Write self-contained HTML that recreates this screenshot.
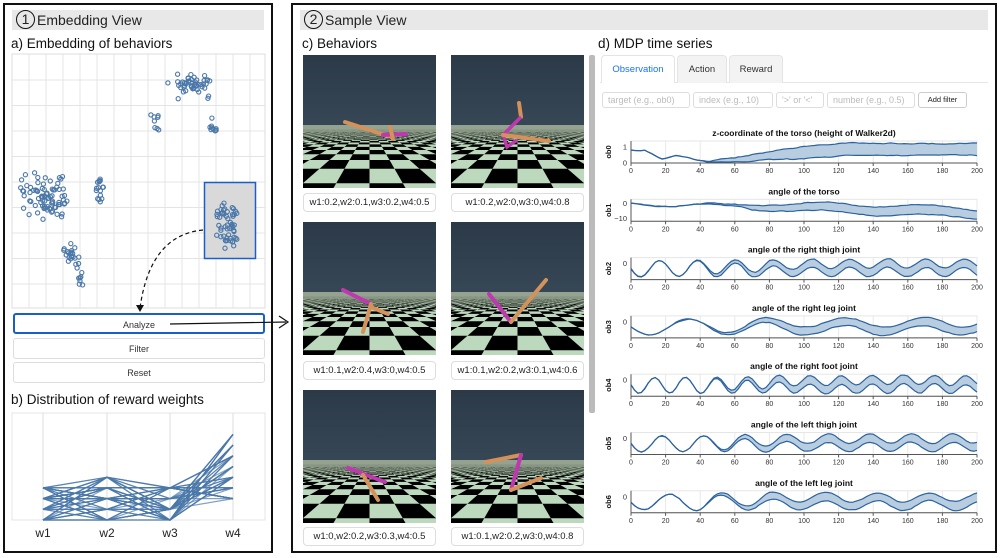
<!DOCTYPE html>
<html><head><meta charset="utf-8"><style>
body{margin:0;width:1000px;height:558px;background:#fff;overflow:hidden;font-family:"Liberation Sans",sans-serif;position:relative}
.abs{position:absolute}
.panel{position:absolute;border:2px solid #111;box-sizing:border-box}
.hdr{position:absolute;background:#e8e8e8;height:20px;font-size:14px;line-height:20px;color:#222}
.circ{display:inline-block;width:17px;height:17px;border:1.3px solid #111;border-radius:50%;text-align:center;line-height:17px;font-size:14px;margin:0 2px 0 4px;vertical-align:top}
.lbl{position:absolute;font-size:13.5px;color:#111}
.btn{position:absolute;left:13px;width:252px;height:21px;border:1px solid #ddd;border-radius:3px;box-sizing:border-box;font-size:9px;text-align:center;line-height:20px;color:#333;background:#fff}
.img{position:absolute;width:133px;height:133px;overflow:hidden;background:linear-gradient(#2c3a48,#3f5262)}
.cap{position:absolute;width:133px;height:19px;border:1px solid #ddd;border-radius:4px;box-sizing:border-box;font-size:9.5px;text-align:center;line-height:18px;color:#222}
.tab{position:absolute;top:55px;height:28px;font-size:9.5px;line-height:28px;text-align:center;border:1px solid #e4e4e4;border-bottom:none;border-radius:4px 4px 0 0;background:#f3f3f3;color:#333;box-sizing:border-box}
.inp{position:absolute;top:92px;height:16px;border:1px solid #ddd;border-radius:3px;box-sizing:border-box;font-size:9px;color:#bbb;line-height:14px;padding-left:5px}
</style></head><body>
<div class="panel" style="left:3px;top:3px;width:270px;height:550px"></div>
<div class="hdr" style="left:12px;top:10px;width:252px"><span class="circ">1</span>Embedding View</div>
<div class="lbl" style="left:11px;top:36px">a) Embedding of behaviors</div>
<div class="lbl" style="left:11px;top:392px">b) Distribution of reward weights</div>
<div class="btn" style="top:313px;border:2px solid #1a5fc8">Analyze</div>
<div class="btn" style="top:338px">Filter</div>
<div class="btn" style="top:362px">Reset</div>

<div class="panel" style="left:291px;top:3px;width:706px;height:550px"></div>
<div class="hdr" style="left:300px;top:10px;width:688px"><span class="circ">2</span>Sample View</div>
<div class="lbl" style="left:302px;top:36px">c) Behaviors</div>
<div class="lbl" style="left:598px;top:36px">d) MDP time series</div>
<div class="abs" style="left:589px;top:55px;width:6px;height:358px;background:#bbb;border-radius:2px"></div>
<div class="abs" style="left:600px;top:82px;width:388px;height:1px;background:#e6e6e6"></div>
<div class="tab" style="left:601px;width:74px;background:#fff;color:#1a73e8">Observation</div>
<div class="tab" style="left:677px;width:50px">Action</div>
<div class="tab" style="left:729px;width:54px">Reward</div>
<div class="inp" style="left:602px;width:88px">target (e.g., ob0)</div>
<div class="inp" style="left:693px;width:80px">index (e.g., 10)</div>
<div class="inp" style="left:776px;width:48px">'&gt;' or '&lt;'</div>
<div class="inp" style="left:827px;width:88px">number (e.g., 0.5)</div>
<div class="inp" style="left:918px;width:49px;color:#222;font-size:7.5px;border-color:#ccc;text-align:center;padding:0">Add filter</div>

<div id="imgs"></div>
<svg id="s" class="abs" style="left:0;top:0" width="1000" height="558"></svg>
<script>
const S=document.getElementById('s');
let h='';
let seed=7;function r(){seed=(seed*16807)%2147483647;return seed/2147483647;}
function g(){return (r()+r()+r()-1.5)/1.5;}
function u2(){return r()+r()-1;}
h+='<rect x="12" y="54" width="253" height="254" fill="#fff" stroke="#ddd"/>';
for(let x=29;x<265;x+=17)h+=`<line x1="${x}" y1="54" x2="${x}" y2="308" stroke="#e4e4e4"/>`;
for(let y=80;y<308;y+=25.5)h+=`<line x1="12" y1="${y}" x2="265" y2="${y}" stroke="#e4e4e4"/>`;
h+='<rect x="204.5" y="182.5" width="51" height="76" fill="#d9d9d9" stroke="#1a5fc8" stroke-width="1.5"/>';
const cl=[[190,85,24,14,50],[155,124,5,10,8],[213,128,4,10,9],[45,195,27,26,80],[100,190,6,14,16],[228,225,14,25,55],[72,255,10,12,20],[80,278,4,14,8]];
for(const c of cl)for(let i=0;i<c[4];i++){h+=`<circle cx="${(c[0]+u2()*c[2]).toFixed(1)}" cy="${(c[1]+u2()*c[3]).toFixed(1)}" r="2.1" fill="none" stroke="#4a77a8" stroke-width="1.1"/>`;}
h+='<path d="M203 230 Q150 235 140 308" fill="none" stroke="#111" stroke-dasharray="4,3" stroke-width="1.2"/><path d="M136 305 L140 312 L144 305" fill="#111"/>';
h+='<line x1="170" y1="324" x2="286" y2="322" stroke="#111" stroke-width="1.2"/><path d="M279 316 L288 322 L279 328" fill="none" stroke="#111" stroke-width="1.2"/>';
h+='<rect x="12" y="413" width="253" height="107" fill="#fff" stroke="#e4e4e4"/>';
const ax=[43,107,170,233];for(const x of ax)h+=`<line x1="${x}" y1="413" x2="${x}" y2="520" stroke="#ddd"/>`;
["w1","w2","w3","w4"].forEach((t,i)=>h+=`<text x="${ax[i]}" y="537" font-size="12" text-anchor="middle" fill="#222">${t}</text>`);
for(let i=0;i<70;i++){let w1=Math.floor(r()*4)/10,w2=Math.floor(r()*5)/10,w3=Math.floor(r()*4)/10,w4=Math.round(Math.max(0.2,Math.min(0.8,1-w1-w2-w3))*10)/10;
 const y=v=>520-107*v;h+=`<polyline points="${ax[0]},${y(w1)} ${ax[1]},${y(w2)} ${ax[2]},${y(w3)} ${ax[3]},${y(w4)}" fill="none" stroke="#4a77a8" stroke-opacity="0.7" stroke-width="1.2"/>`;}
const titles=["z-coordinate of the torso (height of Walker2d)","angle of the torso","angle of the right thigh joint","angle of the right leg joint","angle of the right foot joint","angle of the left thigh joint","angle of the left leg joint"];
const X0=631,X1=977;
for(let k=0;k<7;k++){const t=141+k*58.3,b=t+22;
 h+=`<text x="${(X0+X1)/2}" y="${t-5}" font-size="8.5" font-weight="bold" text-anchor="middle" fill="#111">${titles[k]}</text>`;
 h+=`<rect x="${X0}" y="${t}" width="${X1-X0}" height="22" fill="none" stroke="#e6e6e6"/>`;
 for(let v=0;v<=200;v+=20){const x=X0+(X1-X0)*v/200;h+=`<line x1="${x}" y1="${t}" x2="${x}" y2="${b}" stroke="#e8e8e8"/><line x1="${x}" y1="${b}" x2="${x}" y2="${b+3}" stroke="#555"/><text x="${x}" y="${b+10}" font-size="7" text-anchor="middle" fill="#333">${v}</text>`;}
 h+=`<line x1="${X0}" y1="${b}" x2="${X1}" y2="${b}" stroke="#555"/><line x1="${X0}" y1="${t}" x2="${X0}" y2="${b}" stroke="#555"/>`;
 h+=`<text transform="translate(${X0-20},${(t+b)/2}) rotate(-90)" font-size="7.5" font-weight="bold" text-anchor="middle" fill="#111">ob${k}</text>`;
 const yl=k==0?[["1",t+6],["0",b]]:k==1?[["0",t+4],["−10",b-3]]:[["0",t+6]];
 for(const [s,y] of yl)h+=`<text x="${X0-4}" y="${y+2.5}" font-size="7.5" text-anchor="end" fill="#333">${s}</text>`;
 const per=[0,0,22,45,18,24,30][k];let up=[],lo=[];let n1=0,n2=0;
 for(let i=0;i<=200;i+=2){const x=X0+(X1-X0)*i/200;let base,sp=Math.min(1,Math.max(0,(i-40)/60));
  n1=n1*0.8+g()*0.8;n2=n2*0.8+g()*0.8;
  if(k==0){base=i<18?t+2+i*0.9:i<27?t+18-(i-18)*0.5:i<45?t+14+(i-27)*0.4:t+21-(i-45)*0.15;base=Math.max(base,t+9);}
  else if(k==1)base=t+4+i*0.05+Math.sin(i/10)*2;
  else base=t+11+Math.sin(i*2*Math.PI/per)*8*(1-0.4*sp);
  const w=sp*(k==0?10:7);let u=Math.max(t+1,base-w*0.7+n1),l=Math.min(b-1,base+w*0.5+n2);
  if(l<u)l=u;
  up.push(x.toFixed(1)+','+u.toFixed(1));lo.push(x.toFixed(1)+','+l.toFixed(1));}
 h+=`<polygon points="${up.join(' ')} ${lo.slice().reverse().join(' ')}" fill="#b8cde0" stroke="none"/>`;
 h+=`<polyline points="${up.join(' ')}" fill="none" stroke="#2b62a0" stroke-width="1.2"/><polyline points="${lo.join(' ')}" fill="none" stroke="#2b62a0" stroke-width="1.2"/>`;}
S.innerHTML=h;
let fl='<rect x="0" y="70" width="133" height="63" fill="#bcd8bd"/>';
const HZ=70,FX=100,FY=63,T=0.36;
for(let zi=2;zi<40;zi++){const z0=zi*T,z1=z0+T;const y1=HZ+FY/z0;
 const xm=66.5*z1/FX+T;
 for(let xi=Math.floor(-xm/T)-1;xi<=Math.ceil(xm/T);xi++){if((xi+zi)&1)continue;const xa=xi*T,xb=xa+T;
  const p=(X,Z)=>(66.5+FX*X/Z).toFixed(1)+','+(HZ+FY/Z).toFixed(1);
  fl+=`<polygon points="${p(xa,z0)} ${p(xb,z0)} ${p(xb,z1)} ${p(xa,z1)}" fill="#000"/>`;}}
fl+='<rect x="0" y="70" width="133" height="7" fill="#8d9a88" opacity="0.85"/><rect x="0" y="77" width="133" height="5" fill="#8d9a88" opacity="0.35"/>';
const caps=["w1:0.2,w2:0.1,w3:0.2,w4:0.5","w1:0.2,w2:0,w3:0,w4:0.8","w1:0.1,w2:0.4,w3:0,w4:0.5","w1:0.1,w2:0.2,w3:0.1,w4:0.6","w1:0,w2:0.2,w3:0.3,w4:0.5","w1:0.1,w2:0.2,w3:0,w4:0.8"];
const tops=[55,222,390],capt=[193,361,527],lefts=[303,451];let ih='';
const O='stroke="#d4925a" stroke-width="4" stroke-linecap="round"',M='stroke="#c038b0" stroke-width="4" stroke-linecap="round"';
const bots=[
 `<line x1="42" y1="67" x2="88" y2="82" ${O}/><line x1="80" y1="80" x2="103" y2="79" ${M}/><line x1="87" y1="72" x2="90" y2="84" ${O}/>`,
 `<line x1="68" y1="48" x2="70" y2="62" ${O}/><polyline points="70,62 52,80 56,92 66,85" fill="none" stroke="#c038b0" stroke-width="3.5"/><line x1="52" y1="80" x2="98" y2="86" ${O}/>`,
 `<line x1="40" y1="68" x2="68" y2="82" ${M}/><line x1="68" y1="82" x2="60" y2="110" ${O}/><line x1="68" y1="85" x2="85" y2="92" ${O}/>`,
 `<line x1="38" y1="72" x2="60" y2="100" ${M}/><line x1="60" y1="100" x2="95" y2="58" ${O}/>`,
 `<line x1="45" y1="78" x2="82" y2="92" ${M}/><line x1="60" y1="85" x2="75" y2="110" ${O}/>`,
 `<line x1="35" y1="72" x2="70" y2="65" ${O}/><line x1="70" y1="65" x2="60" y2="100" ${M}/><line x1="60" y1="100" x2="90" y2="88" ${O}/>`];
for(let rI=0;rI<3;rI++)for(let c=0;c<2;c++){const n=rI*2+c;
 ih+=`<div class="img" style="left:${lefts[c]}px;top:${tops[rI]}px"><svg class="abs" style="left:0;top:0" width="133" height="133">${fl}${bots[n]}</svg></div><div class="cap" style="left:${lefts[c]}px;top:${capt[rI]}px">${caps[n]}</div>`;}
document.getElementById('imgs').innerHTML=ih;
</script>
</body></html>
